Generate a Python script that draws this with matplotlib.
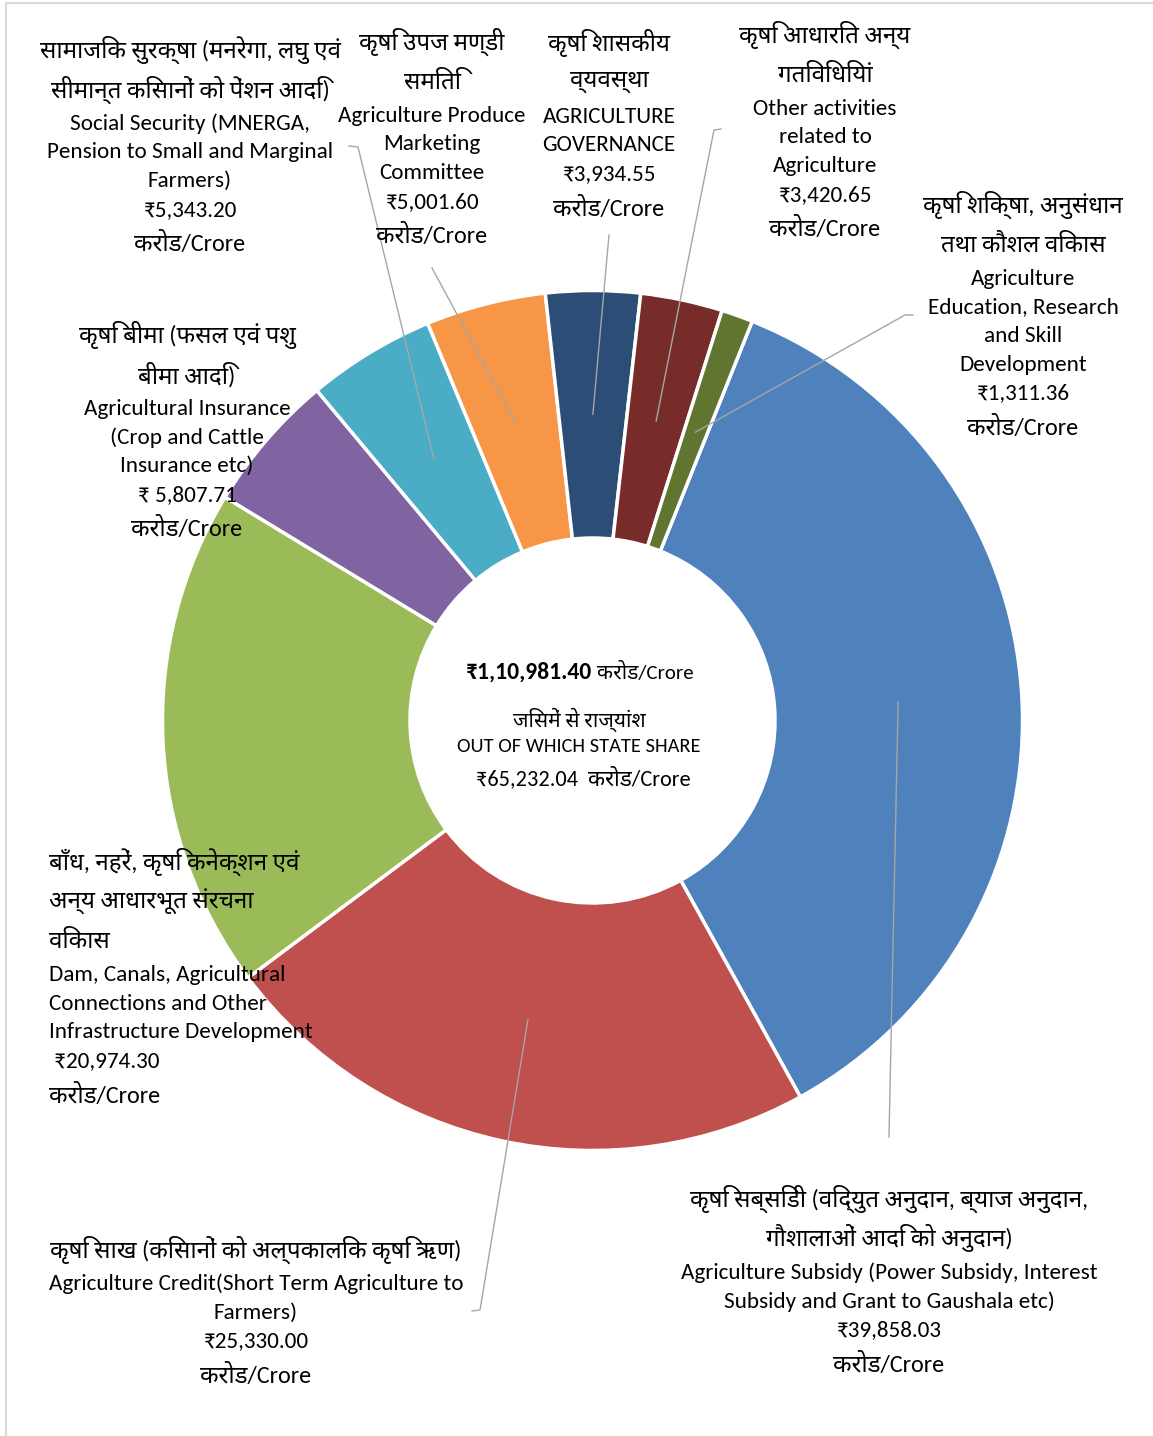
import matplotlib
matplotlib.use("Agg")
import matplotlib.pyplot as plt
import numpy as np

# ---------------- data ----------------
hindi_names = [
    "कृषि सब्सिडी (विद्युत अनुदान, ब्याज अनुदान,\nगौशालाओं आदि को अनुदान)",
    "कृषि साख (किसानों को अल्पकालिक कृषि ऋण)",
    "बाँध, नहरें, कृषि कनेक्शन एवं\nअन्य आधारभूत संरचना\nविकास",
    "कृषि बीमा (फसल एवं पशु\nबीमा आदि)",
    "सामाजिक सुरक्षा (मनरेगा, लघु एवं\nसीमान्त किसानों को पेंशन आदि)",
    "कृषि उपज मण्डी\nसमिति",
    "कृषि शासकीय\nव्यवस्था",
    "कृषि आधारित अन्य\nगतिविधियां",
    "कृषि शिक्षा, अनुसंधान\nतथा कौशल विकास",
]
english_names = [
    "Agriculture Subsidy (Power Subsidy, Interest\nSubsidy and Grant to Gaushala etc)",
    "Agriculture Credit(Short Term Agriculture to\nFarmers)",
    "Dam, Canals, Agricultural\nConnections and Other\nInfrastructure Development",
    "Agricultural Insurance\n(Crop and Cattle\nInsurance etc)",
    "Social Security (MNERGA,\nPension to Small and Marginal\nFarmers)",
    "Agriculture Produce\nMarketing\nCommittee",
    "AGRICULTURE\nGOVERNANCE",
    "Other activities\nrelated to\nAgriculture",
    "Agriculture\nEducation, Research\nand Skill\nDevelopment",
]
values = [39858.03, 25330.00, 20974.30, 5807.71, 5343.20, 5001.60, 3934.55, 3420.65, 1311.36]
value_prefix = ["₹", "₹", " ₹", "₹ ", "₹", "₹", "₹", "₹", "₹"]
unit = "करोड/Crore"
state_share = 65232.04
center_hindi = "जिसमें से राज्यांश"
center_english = "OUT OF WHICH STATE SHARE"

colors = ["#4F81BD", "#C0504D", "#9BBB59", "#8064A2", "#4BACC6",
          "#F79646", "#2C4D75", "#772C2A", "#5F7530"]

# ---------------- layout (pixels from top-left) ----------------
W, H = 1153, 1436
CX, CY = 592.5, 720.5
R_OUT, R_IN = 430, 182.5
START_ANGLE = 68.2

# label block: (anchor x, first-line y, horizontal alignment)
label_pos = [
    (889, 1199, "center"),
    (256, 1250, "center"),
    (49, 862, "left"),
    (187, 335, "center"),
    (190, 50, "center"),
    (432, 42, "center"),
    (609, 43, "center"),
    (825, 35, "center"),
    (1023, 205, "center"),
]
# leader line end points (pixels); None = no leader
leader_ends = [
    [(889, 1137)],
    [(480, 1310), (472, 1311)],
    None,
    None,
    [(358, 147), (349, 146)],
    [(432, 268)],
    [(609, 235)],
    [(714, 130), (721, 129)],
    [(905, 315), (913, 315)],
]

FONTS = ["Carlito", "Noto Sans Devanagari", "DejaVu Sans"]
plt.rcParams["font.family"] = FONTS
FS = 16.7        # english label size (pt)
FS_HI = 17.4     # hindi label size
H_HI, H_EN = 39.5, 28.7  # line heights in px


def fy(y):
    return H - y


def indian_format(v):
    s = f"{v:.2f}"
    ip, dp = s.split(".")
    if len(ip) > 3:
        head, tail = ip[:-3], ip[-3:]
        groups = []
        while len(head) > 2:
            groups.insert(0, head[-2:])
            head = head[:-2]
        if head:
            groups.insert(0, head)
        ip = ",".join(groups + [tail])
    return ip + "." + dp


fig = plt.figure(figsize=(W / 100, H / 100), dpi=100)
ax = fig.add_axes([0, 0, 1, 1])

wedges, _ = ax.pie(values, colors=colors, startangle=START_ANGLE, counterclock=False,
                   radius=R_OUT, center=(CX, fy(CY)),
                   wedgeprops=dict(width=R_OUT - R_IN, edgecolor="white", linewidth=2.5))
ax.set_xlim(0, W)
ax.set_ylim(0, H)
ax.set_aspect("equal")
ax.axis("off")

# border
ax.add_patch(plt.Rectangle((6, fy(1440)), 1200, 1437, fill=False,
                           edgecolor="#D9D9D9", linewidth=1.5, clip_on=False))

# leaders
r_mid = (R_OUT + R_IN) / 2
for w, ends in zip(wedges, leader_ends):
    if ends is None:
        continue
    ang = np.deg2rad((w.theta1 + w.theta2) / 2)
    x0 = CX + r_mid * np.cos(ang)
    y0 = fy(CY) + r_mid * np.sin(ang)
    xs = [x0] + [e[0] for e in ends]
    ys = [y0] + [fy(e[1]) for e in ends]
    ax.plot(xs, ys, color="#A6A6A6", lw=1.0, zorder=3)

# labels
for hn, en, v, pre, (lx, ly, ha) in zip(hindi_names, english_names, values, value_prefix, label_pos):
    lines = [(t, "hi") for t in hn.split("\n")] + [(t, "en") for t in en.split("\n")]
    lines += [(pre + f"{v:,.2f}", "en"), (unit, "hi")]
    y = ly
    prev_h = None
    for t, kind in lines:
        h = H_HI if kind == "hi" else H_EN
        if prev_h is not None:
            y += (prev_h + h) / 2
        ax.text(lx, fy(y), t, ha=ha, va="center", fontsize=FS_HI if kind == "hi" else FS,
                color="black", zorder=5)
        prev_h = h

# centre text
total = sum(values)
ax.text(592, fy(672), "₹" + indian_format(total), ha="right", va="center",
        fontsize=17, fontweight="bold", color="black")
ax.text(597, fy(672), unit, ha="left", va="center", fontsize=15, color="black")
ax.text(579, fy(720), center_hindi, ha="center", va="center", fontsize=15, color="black")
ax.text(579, fy(747), center_english, ha="center", va="center", fontsize=14.7, color="black")
ax.text(583, fy(778), "₹" + f"{state_share:,.2f}" + "  " + unit, ha="center", va="center",
        fontsize=16, color="black")

fig.savefig("out.png", dpi=100)
